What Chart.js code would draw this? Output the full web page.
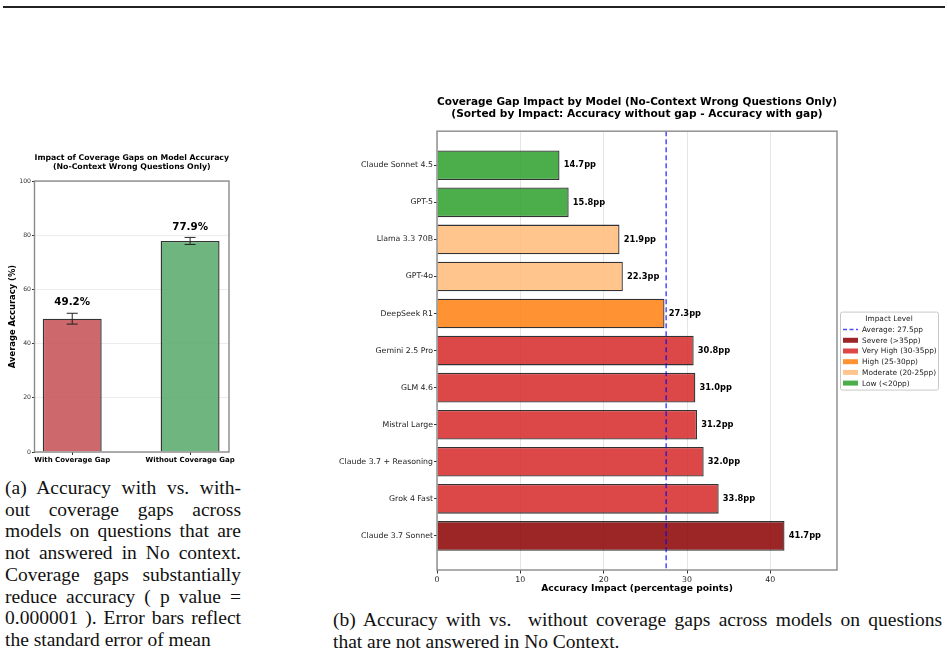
<!DOCTYPE html>
<html>
<head>
<meta charset="utf-8">
<title>Coverage Gap Impact</title>
<script src="https://cdn.jsdelivr.net/npm/chart.js"></script>
<style>
    body { margin: 0; background: #fff; width: 948px; height: 654px; position: relative; overflow: hidden; }
    .rule { position: absolute; left: 3px; top: 6px; width: 942px; height: 1.5px; background: #222; }
    .wrap { position: absolute; }
    .cap { position: absolute; font-family: "Liberation Serif", serif; font-size: 19.5px; line-height: 21.7px; color: #111; }
    .cap div { white-space: nowrap; text-align: justify; text-align-last: justify; }
    .cap div.last { text-align-last: left; }
</style>
</head>
<body>
<div class="rule"></div>

<div class="wrap" style="left:0px; top:140px;"><canvas id="gapChart" width="245" height="330"></canvas></div>
<div class="wrap" style="left:330px; top:88px;"><canvas id="modelChart" width="618" height="512"></canvas></div>

<div class="cap" style="left:5px; top:477px; width:236px;">
    <div>(a) Accuracy with vs. with-</div>
    <div>out coverage gaps across</div>
    <div>models on questions that are</div>
    <div>not answered in No context.</div>
    <div>Coverage gaps substantially</div>
    <div>reduce accuracy ( p value =</div>
    <div>0.000001 ). Error bars reflect</div>
    <div class="last">the standard error of mean</div>
</div>
<div class="cap" style="left:333px; top:609px; width:609px;">
    <div>(b) Accuracy with vs.&nbsp; without coverage gaps across models on questions</div>
    <div class="last">that are not answered in No Context.</div>
</div>

<script>
    // left panel: average accuracy with / without gap
    const gapGroups = ['With Coverage Gap', 'Without Coverage Gap'];
    const gapMeans = [49.2, 77.9];
    const gapErrors = [2.0, 1.3];
    const gapColors = ['rgba(196,78,82,0.85)', 'rgba(85,168,104,0.85)'];

    // right panel: impact per model
    const models = ['Claude Sonnet 4.5', 'GPT-5', 'Llama 3.3 70B', 'GPT-4o', 'DeepSeek R1', 'Gemini 2.5 Pro',
        'GLM 4.6', 'Mistral Large', 'Claude 3.7 + Reasoning', 'Grok 4 Fast', 'Claude 3.7 Sonnet'];
    const impacts = [14.7, 15.8, 21.9, 22.3, 27.3, 30.8, 31.0, 31.2, 32.0, 33.8, 41.7];
    const averageImpact = 27.5;
    const levelNames = ['Severe (>35pp)', 'Very High (30-35pp)', 'High (25-30pp)', 'Moderate (20-25pp)', 'Low (<20pp)'];
    const levelFloors = [35, 30, 25, 20, 0];
    const levelColors = ['rgba(139,0,0,0.85)', 'rgba(214,39,40,0.85)', 'rgba(255,127,14,0.85)', 'rgba(255,187,120,0.85)', 'rgba(44,160,44,0.85)'];

    const FONT = '"DejaVu Sans", sans-serif';

    function levelColor(v) {
        for (let i = 0; i < levelFloors.length; i++) {
            if (v > levelFloors[i]) return levelColors[i];
        }
        return levelColors[levelColors.length - 1];
    }

    function drawFrame(chart) {
        const {ctx, chartArea: a} = chart;
        ctx.save();
        ctx.strokeStyle = '#8a8a8a';
        ctx.lineWidth = 1.4;
        ctx.strokeRect(a.left, a.top, a.right - a.left, a.bottom - a.top);
        ctx.restore();
    }

    const gapExtras = {
        id: 'gapExtras',
        afterDatasetsDraw(chart) {
            const {ctx, scales: {x, y}} = chart;
            ctx.save();
            gapMeans.forEach((m, i) => {
                const px = x.getPixelForValue(i);
                const top = y.getPixelForValue(m + gapErrors[i]);
                const bot = y.getPixelForValue(m - gapErrors[i]);
                ctx.strokeStyle = '#222';
                ctx.lineWidth = 1;
                ctx.beginPath();
                ctx.moveTo(px, top); ctx.lineTo(px, bot);
                ctx.moveTo(px - 5.5, top); ctx.lineTo(px + 5.5, top);
                ctx.moveTo(px - 5.5, bot); ctx.lineTo(px + 5.5, bot);
                ctx.stroke();

                ctx.fillStyle = '#000';
                ctx.font = 'bold 10.3px ' + FONT;
                ctx.textAlign = 'center';
                ctx.textBaseline = 'bottom';
                ctx.fillText(m.toFixed(1) + '%', px, y.getPixelForValue(m + gapErrors[i] + 2));
            });
            ctx.restore();
            drawFrame(chart);
        }
    };

    new Chart(document.getElementById('gapChart'), {
        type: 'bar',
        data: {
            datasets: [{
                data: gapMeans.map((v, i) => ({x: i, y: v})),
                backgroundColor: gapColors,
                borderColor: 'rgba(0,0,0,0.8)',
                borderWidth: 1.4,
                barPercentage: 0.5,
                categoryPercentage: 1
            }]
        },
        options: {
            responsive: false,
            animation: false,
            layout: {padding: {left: 0, right: 16, top: 0, bottom: 0}},
            plugins: {
                legend: {display: false},
                tooltip: {enabled: false},
                title: {
                    display: true,
                    fullSize: false,
                    text: ['Impact of Coverage Gaps on Model Accuracy', '(No-Context Wrong Questions Only)'],
                    color: '#000',
                    font: {family: FONT, size: 7.8, weight: 'bold', lineHeight: 1.15},
                    padding: {top: 13.5, bottom: 9.6}
                }
            },
            scales: {
                x: {
                    type: 'linear',
                    min: -0.32,
                    max: 1.33,
                    offset: false,
                    afterBuildTicks: s => { s.ticks = gapGroups.map((_, i) => ({value: i})); },
                    afterFit: s => { s.height = 18; },
                    ticks: {
                        callback: v => gapGroups[v],
                        color: '#000',
                        font: {family: FONT, size: 7, weight: 'bold'},
                        padding: 1,
                        autoSkip: false,
                        maxRotation: 0
                    },
                    grid: {offset: false, drawOnChartArea: false, tickLength: 3, tickColor: '#333'},
                    border: {display: false}
                },
                y: {
                    min: 0,
                    max: 100,
                    afterFit: s => { s.width = 34.5; },
                    ticks: {stepSize: 20, color: '#333', font: {family: FONT, size: 6.2}, padding: 1, includeBounds: false},
                    grid: {color: 'rgba(0,0,0,0.07)', dash: [2, 2], borderDash: [2, 2], tickLength: 2.5, tickColor: '#333'},
                    border: {display: false},
                    title: {
                        display: true,
                        text: 'Average Accuracy (%)',
                        color: '#000',
                        font: {family: FONT, size: 8.4, weight: 'bold', lineHeight: 1.2},
                        padding: {top: 8, bottom: 0}
                    }
                }
            }
        },
        plugins: [gapExtras]
    });

    const impactExtras = {
        id: 'impactExtras',
        afterDatasetsDraw(chart) {
            const {ctx, chartArea: a, scales: {x, y}} = chart;
            ctx.save();
            // average line
            const ax = x.getPixelForValue(averageImpact);
            ctx.strokeStyle = 'rgba(0,0,255,0.7)';
            ctx.lineWidth = 1.5;
            ctx.setLineDash([5, 3]);
            ctx.beginPath();
            ctx.moveTo(ax, a.top); ctx.lineTo(ax, a.bottom);
            ctx.stroke();
            ctx.setLineDash([]);

            // value labels
            ctx.fillStyle = '#000';
            ctx.font = 'bold 8.3px ' + FONT;
            ctx.textAlign = 'left';
            ctx.textBaseline = 'middle';
            impacts.forEach((v, i) => {
                ctx.fillText(v.toFixed(1) + 'pp', x.getPixelForValue(v + 0.5), y.getPixelForValue(i));
            });
            ctx.restore();
            drawFrame(chart);

            // legend
            const lw = 98, lh = 78;
            const lx = a.right + 3, ly = (a.top + a.bottom) / 2 - lh / 2;
            ctx.save();
            ctx.fillStyle = 'rgba(255,255,255,0.9)';
            ctx.strokeStyle = '#c8c8c8';
            ctx.lineWidth = 1;
            ctx.beginPath();
            ctx.roundRect(lx + 0.5, ly + 0.5, lw, lh, 2);
            ctx.fill();
            ctx.stroke();
            ctx.fillStyle = '#222';
            ctx.font = '7.4px ' + FONT;
            ctx.textAlign = 'center';
            ctx.textBaseline = 'middle';
            ctx.fillText('Impact Level', lx + lw / 2, ly + 7.5);
            ctx.textAlign = 'left';
            const rows = ['Average: ' + averageImpact.toFixed(1) + 'pp'].concat(levelNames);
            rows.forEach((name, r) => {
                const cy = ly + 18 + r * 10.7;
                if (r === 0) {
                    ctx.strokeStyle = 'rgba(0,0,255,0.7)';
                    ctx.lineWidth = 1.5;
                    ctx.setLineDash([4, 2.5]);
                    ctx.beginPath();
                    ctx.moveTo(lx + 3, cy); ctx.lineTo(lx + 18, cy);
                    ctx.stroke();
                    ctx.setLineDash([]);
                } else {
                    ctx.fillStyle = levelColors[r - 1];
                    ctx.fillRect(lx + 3, cy - 2.5, 15, 5);
                }
                ctx.fillStyle = '#222';
                ctx.fillText(name, lx + 22, cy + 0.5);
            });
            ctx.restore();
        }
    };

    new Chart(document.getElementById('modelChart'), {
        type: 'bar',
        data: {
            datasets: [{
                data: impacts.map((v, i) => ({x: v, y: i})),
                backgroundColor: impacts.map(levelColor),
                borderColor: 'rgba(0,0,0,0.8)',
                borderWidth: 1.3,
                barPercentage: 0.8,
                categoryPercentage: 1
            }]
        },
        options: {
            indexAxis: 'y',
            responsive: false,
            animation: false,
            layout: {padding: {left: 0, right: 111, top: 0, bottom: 0}},
            plugins: {
                legend: {display: false},
                tooltip: {enabled: false},
                title: {
                    display: true,
                    fullSize: false,
                    text: ['Coverage Gap Impact by Model (No-Context Wrong Questions Only)',
                        '(Sorted by Impact: Accuracy without gap - Accuracy with gap)'],
                    color: '#000',
                    font: {family: FONT, size: 10.6, weight: 'bold', lineHeight: 1.15},
                    padding: {top: 7.8, bottom: 11}
                }
            },
            scales: {
                x: {
                    type: 'linear',
                    min: 0,
                    max: 48,
                    afterFit: s => { s.height = 30; },
                    ticks: {stepSize: 10, includeBounds: false, color: '#222', font: {family: FONT, size: 7.8}, padding: 1.5},
                    grid: {color: 'rgba(0,0,0,0.1)', dash: [3, 3], borderDash: [3, 3], tickLength: 3.5, tickColor: '#333'},
                    border: {display: false},
                    title: {
                        display: true,
                        text: 'Accuracy Impact (percentage points)',
                        color: '#000',
                        font: {family: FONT, size: 9.2, weight: 'bold', lineHeight: 1.2},
                        padding: {top: 0, bottom: 5.4}
                    }
                },
                y: {
                    type: 'linear',
                    min: -0.92,
                    max: 10.92,
                    reverse: true,
                    offset: false,
                    afterBuildTicks: s => { s.ticks = models.map((_, i) => ({value: i})); },
                    afterFit: s => { s.width = 107; },
                    ticks: {
                        callback: v => models[v],
                        color: '#222',
                        font: {family: FONT, size: 7.8},
                        padding: 1,
                        autoSkip: false
                    },
                    grid: {offset: false, drawOnChartArea: false, tickLength: 3, tickColor: '#333'},
                    border: {display: false}
                }
            }
        },
        plugins: [impactExtras]
    });
</script>
</body>
</html>
